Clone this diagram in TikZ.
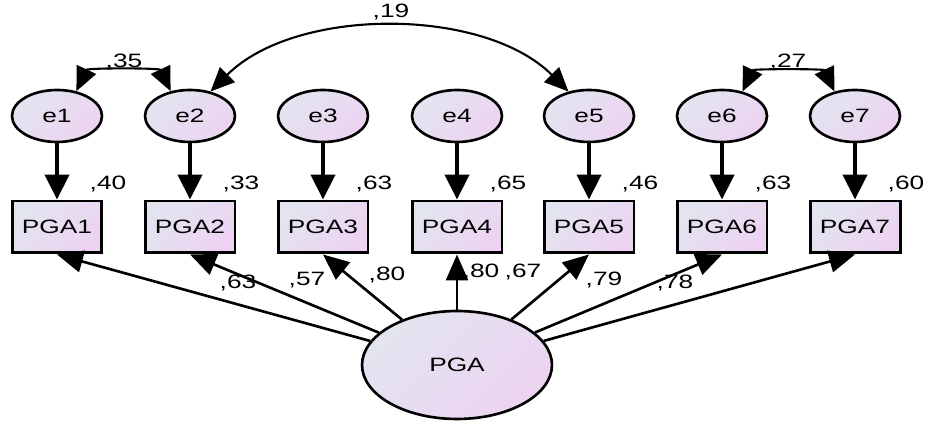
\documentclass[tikz,border=0pt]{standalone}
\usepackage{fontspec}
\setmainfont{Liberation Sans}
\usepackage{graphicx}
\usetikzlibrary{arrows.meta}
\usetikzlibrary{shapes}
\usetikzlibrary{positioning}
\usetikzlibrary{calc}
\definecolor{fillA}{HTML}{E2E5F0}
\definecolor{fillB}{HTML}{EDD3F1}
\newcommand{\wtxt}[1]{\scalebox{1.36}[1]{#1}}
\tikzset{
obsvar/.style={draw=black, line width=1.7pt, rectangle, minimum width=1.8cm, minimum height=1.04cm, inner sep=0pt, left color=fillA, right color=fillB, shading angle=45, font=\fontsize{11}{13}\selectfont},
errvar/.style={draw=black, line width=1.5pt, ellipse, minimum width=1.8cm, minimum height=1.04cm, inner sep=0pt, left color=fillA, right color=fillB, shading angle=45, font=\fontsize{11}{13}\selectfont},
latvar/.style={draw=black, line width=1.5pt, ellipse, minimum width=3.8cm, minimum height=2.16cm, inner sep=0pt, left color=fillA, right color=fillB, shading angle=45, font=\fontsize{11}{13}\selectfont},
num/.style={inner sep=0pt, font=\fontsize{11}{13}\selectfont},
regarrow/.style={line width=2.5pt, -{Triangle[length=0.5cm,width=0.48cm]}},
loadarrow/.style={line width=1.5pt, -{Triangle[length=0.52cm,width=0.44cm]}},
covarrow/.style={line width=1.2pt, {Triangle[length=0.48cm,width=0.42cm]}-{Triangle[length=0.48cm,width=0.42cm]}}
}
\begin{document}
\begin{tikzpicture}[x=0.02cm,y=0.02cm]
\useasboundingbox (0,0) rectangle (925,421);
% items with their error terms
\foreach \n/\x/\r in {1/57/40,2/190/33,3/323/63,4/457/65,5/589/46,6/722/63,7/855/60}
{
\node[errvar] (e\n) at (\x,305) {\wtxt{e\n}};
\node[obsvar] (p\n) at (\x,194) {\wtxt{PGA\n}};
\node[num] at (\x+51,237) {\wtxt{,\r}};
\draw[regarrow] (e\n) -- (p\n);
}
% factor
\node[latvar] (pga) at (457,56) {\wtxt{PGA}};
\foreach \x/\y/\r in {238/138/63,307/141/57,387/146/80,481/149/80,523/149/67,604/141/79,675/138/78}
\node[num] at (\x,\y) {\wtxt{,\r}};
\foreach \n in {1,...,7}
\draw[loadarrow] (pga) -- (p\n.south);
% correlated errors
\draw[covarrow] (e1.52) to[out=65,in=115,looseness=0.7] (e2.128);
\node[num] at (124,359) {\wtxt{,35}};
\draw[covarrow] (e2.50) to[out=45,in=135,looseness=0.86] (e5.130);
\node[num] at (391,409) {\wtxt{,19}};
\draw[covarrow] (e6.50) to[out=65,in=115,looseness=0.7] (e7.130);
\node[num] at (788,359) {\wtxt{,27}};
\end{tikzpicture}
\end{document}
